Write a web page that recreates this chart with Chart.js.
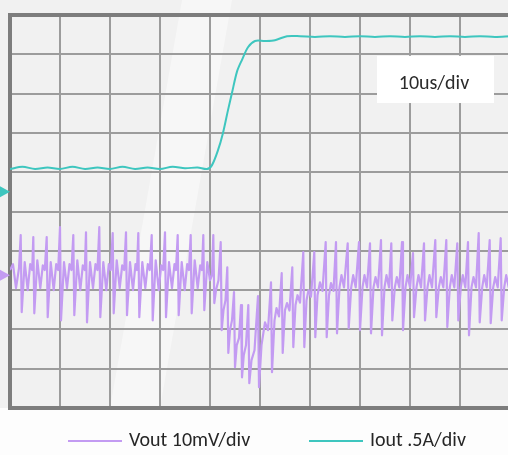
<!DOCTYPE html>
<html>
<head>
<meta charset="utf-8">
<script src="https://cdn.jsdelivr.net/npm/chart.js@4.4.1/dist/chart.umd.min.js"></script>
<style>
  html, body { margin: 0; padding: 0; background: #fdfdfd; overflow: hidden; }
  #wrap { width: 520px; height: 455px; }
</style>
</head>
<body>
<div id="wrap"><canvas id="scope" width="520" height="455"></canvas></div>
<script>
// Load transient capture: 10us/div, Vout 10mV/div, Iout .5A/div

const timeDivs = [0, 10, 20, 30, 40, 50, 60, 70, 80, 90, 100];   // us

// Vout ripple (mV, relative to channel marker)
const voutTime = [
  0, 0.6, 1.2, 1.8,
  2.14, 2.34, 2.94, 3.54, 4.04, 4.44,
  4.66, 4.86, 5.46, 6.06, 6.56, 6.96,
  7.34, 7.54, 8.14, 8.74, 9.24, 9.64,
  10.0, 10.2, 10.8, 11.4, 11.9, 12.3,
  12.66, 12.86, 13.46, 14.06, 14.56, 14.96,
  15.2, 15.4, 16.0, 16.6, 17.1, 17.5,
  17.86, 18.06, 18.66, 19.26, 19.76, 20.16,
  20.54, 20.74, 21.34, 21.94, 22.44, 22.84,
  23.2, 23.4, 24.0, 24.6, 25.1, 25.4,
  25.66, 25.86, 26.46, 27.06, 27.56, 27.96,
  28.34, 28.54, 29.14, 29.74, 30.24, 30.64,
  31.0, 31.2, 31.8, 32.4, 32.9, 33.2,
  33.54, 33.74, 34.34, 34.94, 35.44, 35.8,
  36.14, 36.34, 36.94, 37.54, 38.04, 38.4,
  38.66, 38.86, 39.46, 40.0, 40.4,
  40.66, 40.86, 41.2, 41.7,
  42.14, 42.34, 42.7, 43.1,
  43.46, 43.66, 44.0, 44.4,
  44.8, 45.0, 45.35, 45.8,
  46.2, 46.4, 46.75, 47.2,
  47.66, 47.86, 48.3, 48.9,
  49.6, 49.8, 50.3, 51.0, 51.6,
  52.2, 52.4, 52.9, 53.3, 53.8,
  54.34, 54.54, 55.0, 55.4, 55.9,
  56.46, 56.66, 57.1, 57.5, 58.0,
  58.66, 58.86, 59.3, 59.7, 60.2,
  60.86, 61.06, 61.5, 62.0, 62.5,
  63.14, 63.34, 63.8, 64.2, 64.7,
  65.2, 65.4, 65.9, 66.3, 66.8,
  67.54, 67.74, 68.24, 68.64, 69.14,
  69.8, 70.0, 70.5, 70.9, 71.4,
  72.0, 72.2, 72.7, 73.1, 73.6,
  74.2, 74.4, 74.9, 75.3, 75.8,
  76.26, 76.46, 76.96, 77.36, 77.86,
  78.4, 78.6, 79.1, 79.5, 80.0,
  80.6, 80.8, 81.3, 81.7, 82.2,
  82.8, 83.0, 83.5, 83.9, 84.4,
  85.06, 85.26, 85.76, 86.16, 86.66,
  87.26, 87.46, 87.96, 88.36, 88.86,
  89.46, 89.66, 90.16, 90.56, 91.06,
  91.6, 91.8, 92.3, 92.7, 93.2,
  93.74, 93.94, 94.44, 94.84, 95.34,
  95.94, 96.14, 96.64, 97.04, 97.54,
  98.14, 98.34, 98.84, 99.24, 99.74, 100
];
const voutMv = [
  1.3, 2.8, -3.3, 1.8,
  10.2, -9.4, 3.3, -3.8, 2.8, 1.3,
  9.7, -9.7, 3.8, -3.3, 2.5, 1.3,
  9.7, -10.7, 3.3, -3.8, 2.8, 1.3,
  12.2, -11.5, 3.3, -3.3, 2.8, 1.3,
  10.2, -10.2, 3.8, -3.8, 2.5, 1.3,
  10.9, -12.0, 3.3, -3.3, 2.8, 1.3,
  12.2, -10.7, 3.3, -3.8, 2.8, 1.3,
  10.7, -9.7, 3.8, -3.3, 2.5, 1.3,
  10.9, -10.2, 3.3, -3.8, 2.8, 1.3,
  10.7, -10.7, 3.3, -3.3, 2.8, 1.3,
  10.2, -11.5, 3.8, -3.8, 2.5, 1.3,
  10.9, -10.7, 3.3, -3.3, 2.8, 1.3,
  10.2, -10.2, 3.3, -3.8, 2.8, 1.3,
  10.2, -9.7, 3.8, -3.3, 2.5, 1.3,
  10.2, -8.9, 3.3, -1.3, 0,
  10.2, -7.1, -3.8, -1.3,
  8.4, -14.0, -8.9, -6.4,
  2.0, -19.8, -14.0, -11.5,
  -4.3, -23.4, -17.8, -16.0,
  -7.6, -26.0, -20.4, -17.8,
  -7.6, -27.5, -21.6, -19.1,
  -5.3, -28.5, -17.8, -12.0, -14.0,
  -1.8, -24.7, -11.5, -8.4, -10.5,
  0.5, -19.8, -8.9, -7.1, -9.0,
  2.0, -18.3, -7.6, -5.1, -7.0,
  5.9, -18.3, -6.4, -3.8, -5.5,
  5.9, -15.8, -5.1, -1.8, -4.0,
  8.4, -15.8, -5.1, -2.0, -4.0,
  8.4, -14.8, -3.1, 0, -3.1,
  8.1, -13.5, -3.1, 0, -3.1,
  8.4, -14.0, -3.1, 0, -3.1,
  8.1, -14.8, -3.1, -0.5, -3.1,
  8.9, -15.3, -3.1, 0, -3.1,
  8.1, -11.5, -3.1, -0.5, -3.1,
  8.4, -14.0, -3.1, 0, -3.1,
  5.6, -10.7, -3.1, 0, -3.1,
  8.1, -11.5, -3.1, 0, -3.1,
  8.9, -10.7, -3.1, -0.5, -3.1,
  8.9, -13.2, -3.1, 0, -3.1,
  8.1, -11.5, -3.1, 0, -3.1,
  8.4, -15.3, -3.1, -0.5, -3.1,
  10.7, -12.0, -3.1, 0, -3.1,
  8.9, -12.2, -3.1, -0.5, -3.1,
  9.4, -11.5, -3.1, 0, -3.1, -2.5
];

// Iout (A, relative to channel marker)
const ioutTime = [
  0, 2.5, 5, 7.5, 10, 12.5, 15, 17.5, 20, 22.5, 25, 27.5, 30, 32.5, 35, 37.5,
  39.4, 40.4, 41.6, 42.6, 43.6, 44.4, 45.4, 46.4, 47.6, 49.0, 51, 53, 55.4,
  58, 61, 64, 67, 70, 73, 76, 79, 82, 85, 88, 91, 94, 97, 100
];
const ioutAmp = [
  0.29, 0.32, 0.29, 0.31, 0.29, 0.32, 0.29, 0.31, 0.29, 0.32, 0.29, 0.31, 0.29, 0.32, 0.30, 0.31,
  0.29, 0.34, 0.53, 0.75, 1.04, 1.26, 1.53, 1.68, 1.84, 1.92, 1.92, 1.93, 1.98,
  1.98, 1.97, 1.98, 1.97, 1.98, 1.97, 1.98, 1.97, 1.98, 1.97, 1.98, 1.97, 1.98, 1.97, 1.98
];

// screen ranges so that each channel marker sits where the scope put it
const voutRange = [-33.8, 66.2];   // 10 div * 10mV
const ioutRange = [-2.75, 2.25];   // 10 div * .5A
const channelZero = 0;

const seriesNames = ['Vout 10mV/div', 'Iout .5A/div'];
const timebaseLabel = '10us/div';

const PURPLE = '#c39bf2';
const TEAL = '#3ec6bf';
const FONT = 'Carlito, Lato, "Open Sans", sans-serif';

function pts(xs, ys) {
  return xs.map(function (x, i) { return { x: x, y: ys[i] }; });
}

const scopePlugin = {
  id: 'scopeDecor',
  beforeDraw: function (chart) {
    const ctx = chart.ctx, a = chart.chartArea;
    ctx.save();
    ctx.fillStyle = '#fdfdfd';
    ctx.fillRect(0, 0, chart.width, chart.height);
    ctx.fillStyle = '#f1f1f1';
    ctx.fillRect(0, 0, chart.width, a.bottom);
    // faint watermark band
    ctx.fillStyle = 'rgba(255,255,255,0.45)';
    ctx.beginPath();
    ctx.moveTo(a.left + 172, 0);
    ctx.lineTo(a.left + 222, 0);
    ctx.lineTo(a.left + 150, a.bottom);
    ctx.lineTo(a.left + 100, a.bottom);
    ctx.closePath();
    ctx.fill();
    ctx.restore();
  },
  beforeDatasetsDraw: function (chart) {
    const ctx = chart.ctx, a = chart.chartArea;
    const xs = chart.scales.x, ys = chart.scales.y;
    ctx.save();
    // timebase box
    const l = xs.getPixelForValue(73.4), r = xs.getPixelForValue(96.8);
    const t = ys.getPixelForValue(8.96), b = ys.getPixelForValue(7.76);
    ctx.fillStyle = '#ffffff';
    ctx.fillRect(l, t, r - l, b - t);
    ctx.fillStyle = '#2b2b2b';
    ctx.font = '20px ' + FONT;
    ctx.textAlign = 'center';
    ctx.textBaseline = 'middle';
    ctx.fillText(timebaseLabel, xs.getPixelForValue(84.8), ys.getPixelForValue(8.24));
    // frame
    ctx.strokeStyle = '#7d7d7d';
    ctx.lineWidth = 4;
    ctx.strokeRect(a.left, a.top, a.right - a.left, a.bottom - a.top);
    // channel ground markers
    [['yI', TEAL], ['yV', PURPLE]].forEach(function (m) {
      const y = chart.scales[m[0]].getPixelForValue(channelZero);
      ctx.fillStyle = m[1];
      ctx.beginPath();
      ctx.moveTo(a.left - 10, y - 5.5);
      ctx.lineTo(a.left, y);
      ctx.lineTo(a.left - 10, y + 5.5);
      ctx.closePath();
      ctx.fill();
    });
    ctx.restore();
  },
  afterDraw: function (chart) {
    const ctx = chart.ctx;
    const items = [
      { x: 68, color: PURPLE, text: seriesNames[0] },
      { x: 309, color: TEAL, text: seriesNames[1] }
    ];
    const y = 441;
    ctx.save();
    ctx.font = '20px ' + FONT;
    ctx.textBaseline = 'middle';
    ctx.textAlign = 'left';
    items.forEach(function (it) {
      ctx.strokeStyle = it.color;
      ctx.lineWidth = 2;
      ctx.beginPath();
      ctx.moveTo(it.x, y);
      ctx.lineTo(it.x + 54, y);
      ctx.stroke();
      ctx.fillStyle = '#262626';
      ctx.fillText(it.text, it.x + 61, y);
    });
    ctx.restore();
  }
};

new Chart(document.getElementById('scope'), {
  type: 'line',
  data: {
    datasets: [
      {
        label: seriesNames[0],
        data: pts(voutTime, voutMv),
        yAxisID: 'yV',
        borderColor: PURPLE,
        borderWidth: 2.2,
        borderJoinStyle: 'round',
        pointRadius: 0,
        tension: 0
      },
      {
        label: seriesNames[1],
        data: pts(ioutTime, ioutAmp),
        yAxisID: 'yI',
        borderColor: TEAL,
        borderWidth: 2,
        pointRadius: 0,
        tension: 0.3
      }
    ]
  },
  options: {
    responsive: false,
    animation: false,
    events: [],
    layout: { padding: { left: 10, top: 15, right: 10, bottom: 47 } },
    plugins: {
      legend: { display: false },
      tooltip: { enabled: false }
    },
    scales: {
      x: {
        type: 'linear',
        min: timeDivs[0],
        max: timeDivs[timeDivs.length - 1],
        afterBuildTicks: function (s) { s.ticks = timeDivs.map(function (v) { return { value: v }; }); },
        ticks: { display: false },
        border: { display: false },
        grid: { color: '#9c9c9c', lineWidth: 2, drawTicks: false }
      },
      y: {
        min: 0,
        max: 10,
        ticks: { display: false, stepSize: 1 },
        border: { display: false },
        grid: { color: '#9c9c9c', lineWidth: 2, drawTicks: false }
      },
      yV: { min: voutRange[0], max: voutRange[1], display: false },
      yI: { min: ioutRange[0], max: ioutRange[1], display: false }
    }
  },
  plugins: [scopePlugin]
});
</script>
</body>
</html>
